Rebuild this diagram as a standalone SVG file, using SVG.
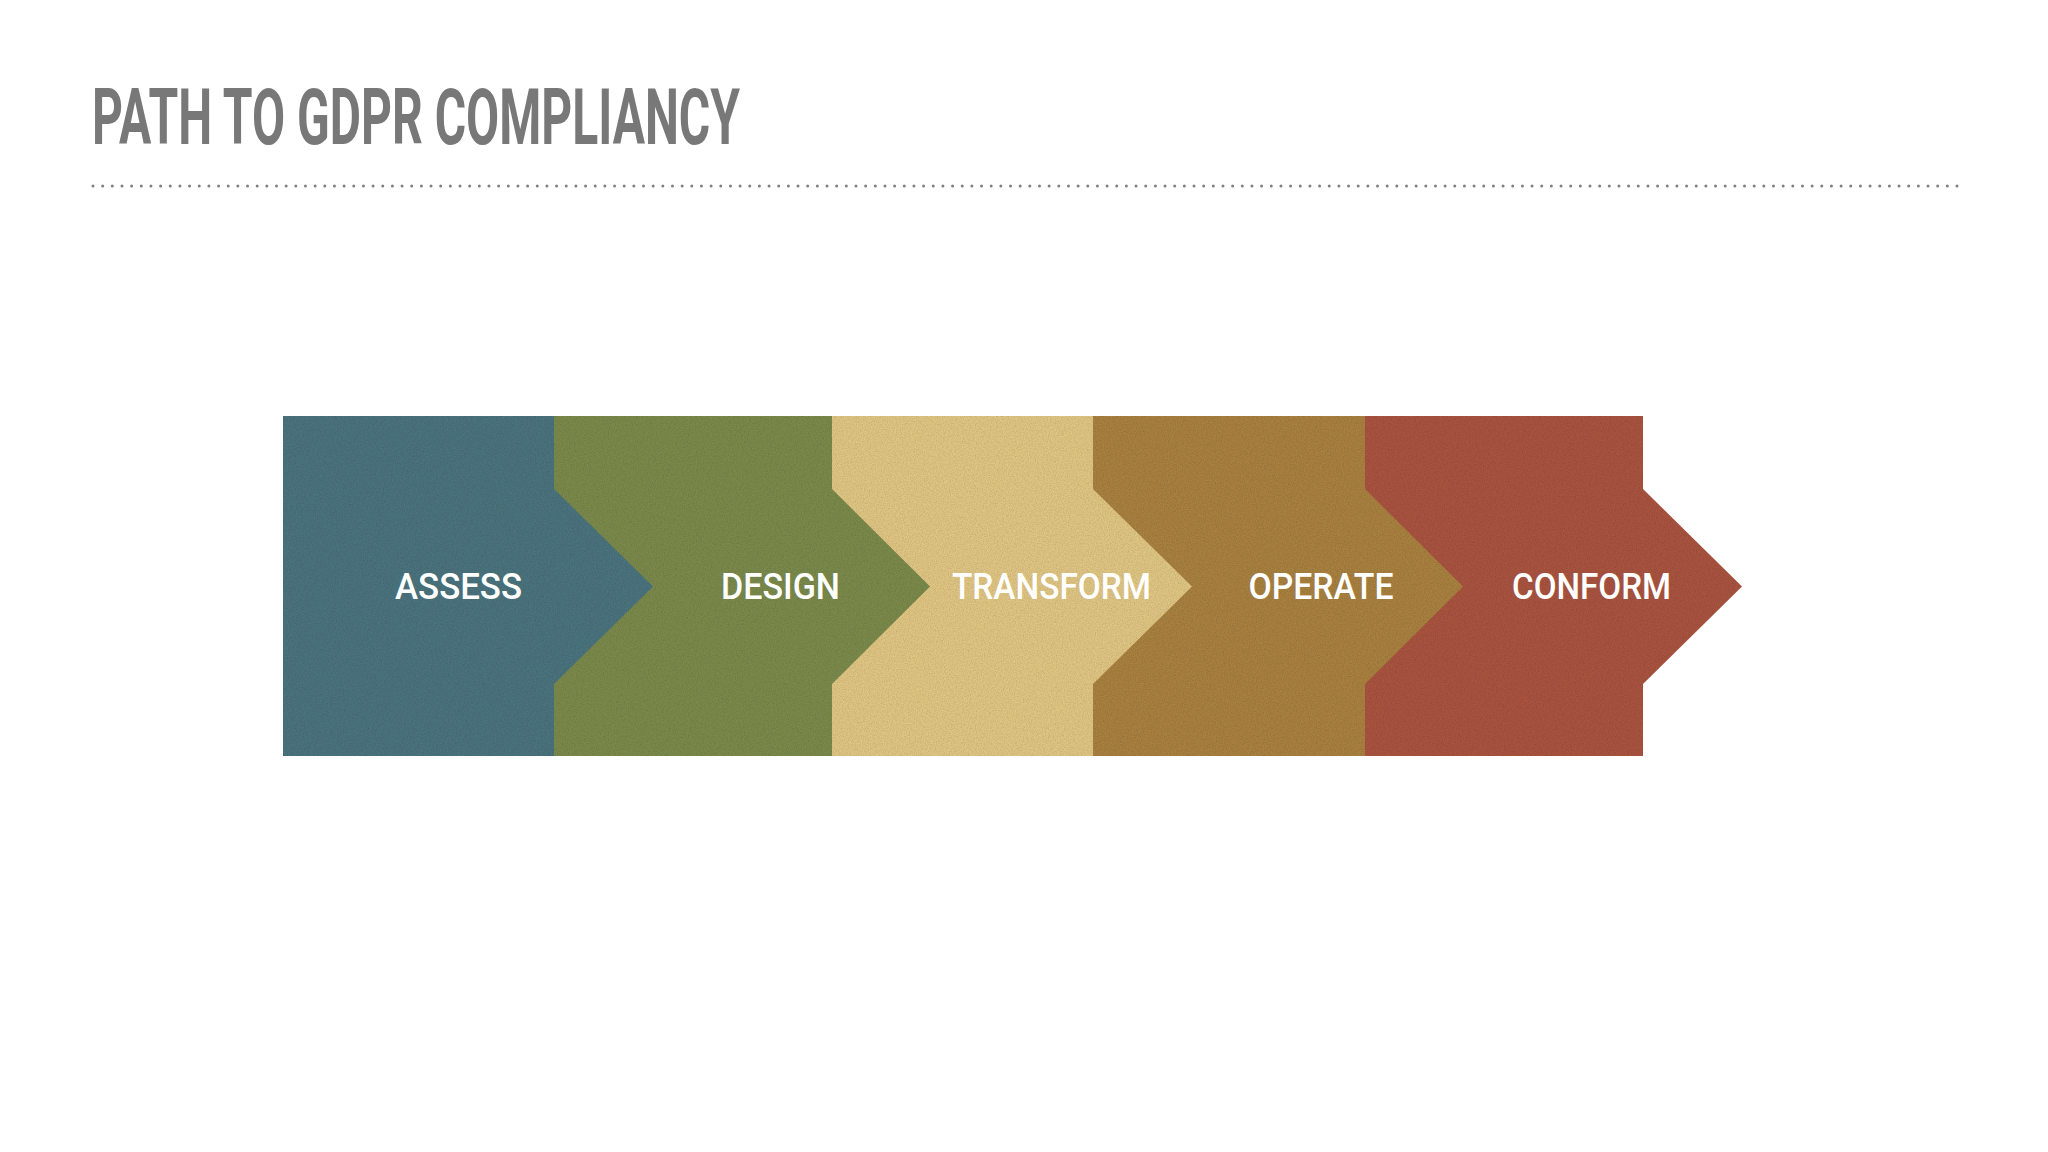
<svg xmlns="http://www.w3.org/2000/svg" width="2048" height="1152" viewBox="0 0 2048 1152">
<style>
.title{font-family:Roboto,"Liberation Sans",Arial,sans-serif;font-weight:700;font-size:77px;fill:#787878}
.lbl{font-family:Roboto,"Liberation Sans",sans-serif;font-weight:500;font-size:36px;fill:#ffffff;text-anchor:middle}
.shape{filter:url(#paper)}
</style>
<defs>
<filter id="paper" x="0" y="0" width="100%" height="100%" color-interpolation-filters="sRGB">
<feTurbulence type="fractalNoise" baseFrequency="0.85" numOctaves="3" seed="4" result="n"/>
<feColorMatrix in="n" type="matrix" values="0 0 0 0 0  0 0 0 0 0  0 0 0 0 0  0 0 0 0.22 -0.08" result="dk"/>
<feComposite in="dk" in2="SourceGraphic" operator="in" result="dk2"/>
<feMerge><feMergeNode in="SourceGraphic"/><feMergeNode in="dk2"/></feMerge>
</filter>
</defs>
<rect width="2048" height="1152" fill="#ffffff"/>
<g id="title">
<text class="title" x="92" y="144" textLength="648" lengthAdjust="spacingAndGlyphs">PATH TO GDPR COMPLIANCY</text>
<line x1="93" y1="186" x2="1957" y2="186" stroke="#808080" stroke-width="3" stroke-linecap="round" stroke-dasharray="0 9.658"/>
</g>
<g id="connectors"></g>
<g id="conform">
<polygon class="shape" fill="#a8533f" points="1365,416 1643,416 1643,489 1742,586.5 1643,684 1643,756 1365,756"/>
<text class="lbl" x="1591.5" y="599" textLength="159" lengthAdjust="spacingAndGlyphs">CONFORM</text>
</g>
<g id="operate">
<polygon class="shape" fill="#a8803f" points="1093,416 1365,416 1365,489 1463,586.5 1365,684 1365,756 1093,756"/>
<text class="lbl" x="1321" y="599" textLength="145" lengthAdjust="spacingAndGlyphs">OPERATE</text>
</g>
<g id="transform">
<polygon class="shape" fill="#dfc583" points="832,416 1093,416 1093,489 1192,586.5 1093,684 1093,756 832,756"/>
<text class="lbl" x="1051.5" y="599" textLength="199" lengthAdjust="spacingAndGlyphs">TRANSFORM</text>
</g>
<g id="design">
<polygon class="shape" fill="#7a894b" points="554,416 832,416 832,489 930,586.5 832,684 832,756 554,756"/>
<text class="lbl" x="780.5" y="599" textLength="119" lengthAdjust="spacingAndGlyphs">DESIGN</text>
</g>
<g id="assess">
<polygon class="shape" fill="#4a737d" points="283,416 554,416 554,489 653,586.5 554,684 554,756 283,756"/>
<text class="lbl" x="458.5" y="599" textLength="127" lengthAdjust="spacingAndGlyphs">ASSESS</text>
</g>
</svg>
